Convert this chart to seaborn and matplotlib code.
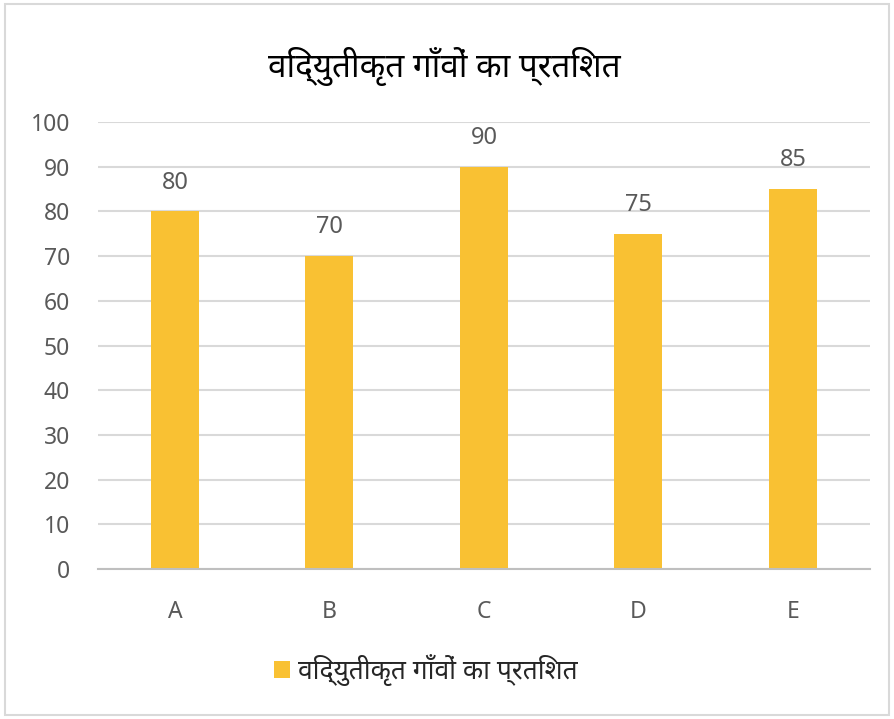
"""Bar chart: percentage of electrified villages (Hindi labels)."""

import matplotlib
matplotlib.use("Agg")
import matplotlib.pyplot as plt
from matplotlib.patches import Rectangle
import pandas as pd
import seaborn as sns

TITLE = "विद्युतीकृत गाँवों का प्रतिशत"
SERIES_NAME = "विद्युतीकृत गाँवों का प्रतिशत"
categories = ["A", "B", "C", "D", "E"]
values = [80, 70, 90, 75, 85]
y_ticks = [0, 10, 20, 30, 40, 50, 60, 70, 80, 90, 100]

BAR_COLOR = "#F9C133"
TEXT_GRAY = "#595959"
GRID_GRAY = "#D9D9D9"

sns.set_theme(style="white")
plt.rcParams["font.family"] = ["Noto Sans", "DejaVu Sans"]

df = pd.DataFrame({"cat": categories, "val": values})

fig = plt.figure(figsize=(8.94, 7.19), dpi=100)
ax = fig.add_axes([0.1093, 0.2086, 0.864, 0.6217])

sns.barplot(data=df, x="cat", y="val", color=BAR_COLOR, width=0.31,
            saturation=1, linewidth=0, ax=ax, label=SERIES_NAME)

ax.set_ylim(0, 100)
ax.set_xlim(-0.5, len(categories) - 0.5)
ax.set_yticks(y_ticks)
ax.set_xlabel("")
ax.set_ylabel("")
ax.grid(axis="y", color=GRID_GRAY, linewidth=1.5)
ax.set_axisbelow(True)
for side in ["top", "right", "left"]:
    ax.spines[side].set_visible(False)
ax.spines["bottom"].set_color("#BFBFBF")
ax.spines["bottom"].set_linewidth(1.5)
ax.tick_params(axis="both", length=0, labelsize=16.5, colors=TEXT_GRAY)
ax.tick_params(axis="x", pad=22)
ax.tick_params(axis="y", pad=20)

ax.bar_label(ax.containers[0], fontsize=17, color=TEXT_GRAY, padding=12)

fig.text(0.497, 0.908, TITLE, ha="center", va="center", fontsize=24, color="#000000")

ax.legend(loc="center", bbox_to_anchor=(0.476, 0.068), bbox_transform=fig.transFigure,
          frameon=False, fontsize=19, handlelength=0.6, handleheight=0.6,
          handletextpad=0.3)

fig.patches.append(Rectangle((0.006, 0.005), 0.988, 0.99, transform=fig.transFigure,
                             fill=False, edgecolor="#D9D9D9", linewidth=1.5))

fig.savefig("out.png", dpi=100)
